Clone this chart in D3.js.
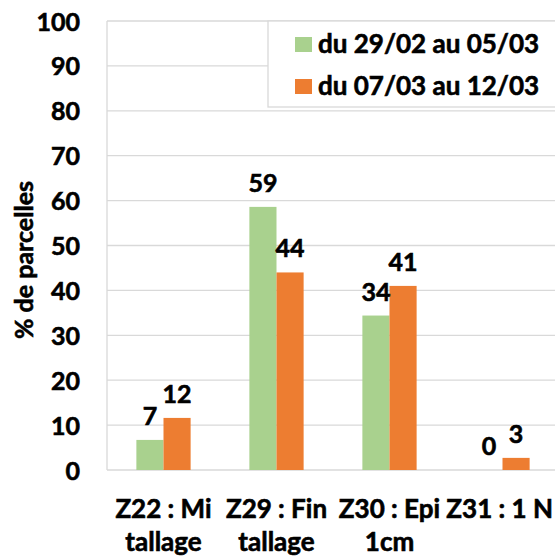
<!DOCTYPE html>
<html>
<head>
<meta charset="utf-8">
<script src="https://cdn.jsdelivr.net/npm/d3@7"></script>
<style>
  html, body { margin: 0; padding: 0; background: #fff; }
  text { font-family: Lato, "Open Sans", sans-serif; font-weight: bold; fill: #000;
         stroke: #000; stroke-width: 0.6px; paint-order: stroke; }
</style>
</head>
<body>
<div id="chart"></div>
<script>
// stades
var categories = [['Z22 : Mi', 'tallage'], ['Z29 : Fin', 'tallage'], ['Z30 : Epi', '1cm'], ['Z31 : 1 N']];
var series = ['du 29/02 au 05/03', 'du 07/03 au 12/03'];
var colors = ['#A9D18E', '#ED7D31'];
var values1 = [6.7, 58.6, 34.4, 0];
var values2 = [11.6, 44.0, 41.0, 2.7];
var yTicks = [0, 10, 20, 30, 40, 50, 60, 70, 80, 90, 100];

var W = 555, H = 556;
var margin = { top: 21, right: -4, bottom: 86, left: 107 };
var width = W - margin.left - margin.right;
var height = H - margin.top - margin.bottom;

var svg = d3.select('#chart').append('svg')
  .attr('width', W)
  .attr('height', H);

var g = svg.append('g')
  .attr('transform', 'translate(' + margin.left + ',' + margin.top + ')');

var x0 = d3.scaleBand().domain(d3.range(categories.length)).range([0, width])
  .paddingInner(0.52).paddingOuter(0.26);
var x1 = d3.scaleBand().domain(d3.range(series.length)).range([0, x0.bandwidth()]);
var y = d3.scaleLinear().domain([0, 100]).range([height, 0]);

// grille
g.selectAll('.grid').data(yTicks).enter().append('line')
  .attr('x1', 0).attr('x2', width)
  .attr('y1', function(d) { return y(d); })
  .attr('y2', function(d) { return y(d); })
  .attr('stroke', '#D9D9D9').attr('stroke-width', 1.3);

g.append('line')
  .attr('x1', 0).attr('x2', 0).attr('y1', 0).attr('y2', height)
  .attr('stroke', '#D9D9D9').attr('stroke-width', 1.3);

// axe y
var yAxis = d3.axisLeft(y).tickValues(yTicks).tickSize(0).tickPadding(27);
var ya = g.append('g').call(yAxis);
ya.select('.domain').remove();
ya.selectAll('text').style('font-size', '25px').attr('dy', '0.36em')
  .style('font-family', null).attr('font-family', null);

svg.append('text')
  .attr('transform', 'translate(33,260) rotate(-90)')
  .attr('text-anchor', 'middle')
  .style('font-size', '25px')
  .text('% de parcelles');

// barres
var rows = categories.map(function(c, i) { return [values1[i], values2[i]]; });

var groups = g.selectAll('.grp').data(rows).enter().append('g')
  .attr('transform', function(d, i) { return 'translate(' + x0(i) + ',0)'; });

groups.selectAll('rect').data(function(d) { return d; }).enter().append('rect')
  .attr('x', function(d, j) { return x1(j); })
  .attr('y', function(d) { return y(d); })
  .attr('width', x1.bandwidth())
  .attr('height', function(d) { return height - y(d); })
  .attr('fill', function(d, j) { return colors[j]; });

groups.selectAll('.lbl').data(function(d) { return d; }).enter().append('text')
  .attr('x', function(d, j) { return x1(j) + x1.bandwidth() / 2; })
  .attr('y', function(d) { return y(d) - 15; })
  .attr('text-anchor', 'middle')
  .style('font-size', '25px')
  .text(function(d) { return Math.round(d); });

// libellés des stades
var cats = g.selectAll('.cat').data(categories).enter().append('text')
  .attr('text-anchor', 'middle')
  .style('font-size', '26px')
  .attr('x', function(d, i) { return x0(i) + x0.bandwidth() / 2; })
  .attr('y', height + 48);

cats.selectAll('tspan').data(function(d) { return d; }).enter().append('tspan')
  .attr('x', function() { return this.parentNode.getAttribute('x'); })
  .attr('dy', function(d, k) { return k === 0 ? 0 : 33; })
  .text(function(d) { return d; });

// garder le texte dans le cadre
cats.each(function() {
  var bb = this.getBBox();
  var right = margin.left + bb.x + bb.width;
  if (right > W - 2) {
    var cx = +this.getAttribute('x') - (right - (W - 2));
    d3.select(this).attr('x', cx).selectAll('tspan').attr('x', cx);
  }
});

// légende
var lg = svg.append('g').attr('transform', 'translate(268,21)');
lg.append('rect')
  .attr('x', 0).attr('y', 0).attr('width', 300).attr('height', 86)
  .attr('fill', '#fff').attr('stroke', '#D9D9D9').attr('stroke-width', 1.3);

var items = lg.selectAll('.item').data(series).enter().append('g')
  .attr('transform', function(d, i) { return 'translate(27,' + (23 + i * 42) + ')'; });
items.append('rect')
  .attr('x', 0).attr('y', -7).attr('width', 17).attr('height', 15)
  .attr('fill', function(d, i) { return colors[i]; });
items.append('text')
  .attr('x', 23).attr('y', 0).attr('dy', '0.36em')
  .style('font-size', '26px')
  .text(function(d) { return d; });
</script>
</body>
</html>
